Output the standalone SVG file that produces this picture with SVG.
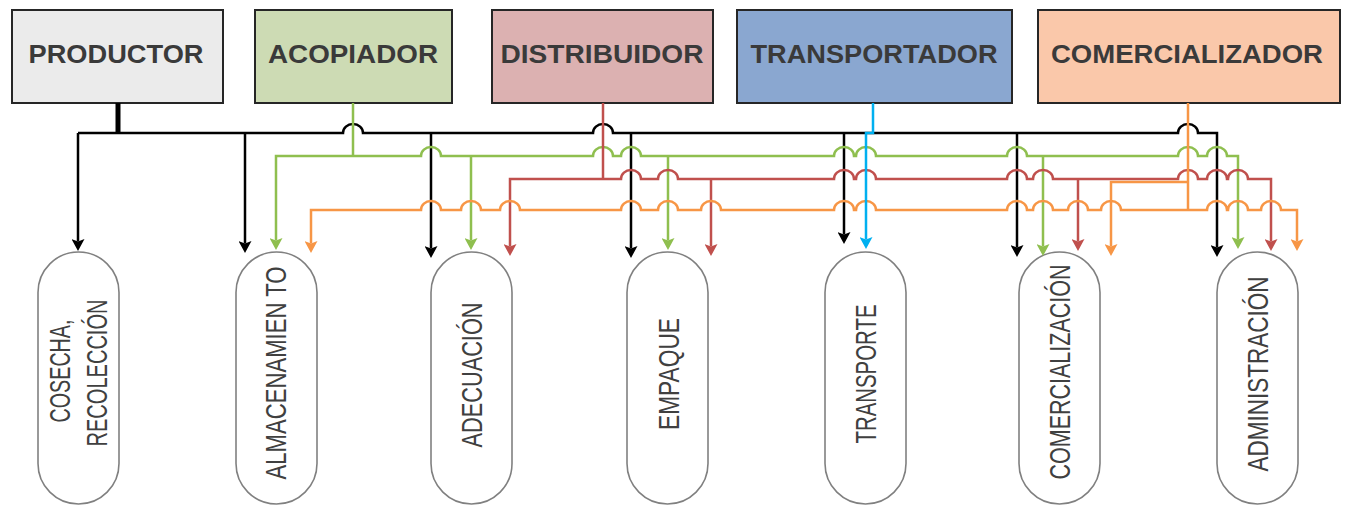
<svg xmlns="http://www.w3.org/2000/svg" width="1346" height="512" viewBox="0 0 1346 512">
<style>
.box{stroke:#262626;stroke-width:2}
.bt{font-family:"Liberation Sans",Arial,sans-serif;font-weight:bold;font-size:25px;fill:#3a3a3a;text-anchor:middle}
.node{fill:#ffffff;stroke:#808080;stroke-width:1.6}
.nt{font-family:"Liberation Sans",Arial,sans-serif;font-size:29px;fill:#404040;text-anchor:middle}
.c{fill:none;stroke-width:2.5;stroke-linejoin:miter}
.thick{stroke-width:5}
.k{stroke:#000000}
.g{stroke:#8fbf4f}
.r{stroke:#c0504d}
.o{stroke:#f79646}
.b{stroke:#00b0f0}
</style>
<defs>
<marker id="ak" markerUnits="userSpaceOnUse" markerWidth="13" markerHeight="13" refX="2.5" refY="6.5" orient="auto"><path d="M0,0 L12,6.5 L0,13 L2.5,6.5 z" fill="#000000"/></marker>
<marker id="ag" markerUnits="userSpaceOnUse" markerWidth="13" markerHeight="13" refX="2.5" refY="6.5" orient="auto"><path d="M0,0 L12,6.5 L0,13 L2.5,6.5 z" fill="#8fbf4f"/></marker>
<marker id="ar" markerUnits="userSpaceOnUse" markerWidth="13" markerHeight="13" refX="2.5" refY="6.5" orient="auto"><path d="M0,0 L12,6.5 L0,13 L2.5,6.5 z" fill="#c0504d"/></marker>
<marker id="ao" markerUnits="userSpaceOnUse" markerWidth="13" markerHeight="13" refX="2.5" refY="6.5" orient="auto"><path d="M0,0 L12,6.5 L0,13 L2.5,6.5 z" fill="#f79646"/></marker>
<marker id="ab" markerUnits="userSpaceOnUse" markerWidth="13" markerHeight="13" refX="2.5" refY="6.5" orient="auto"><path d="M0,0 L12,6.5 L0,13 L2.5,6.5 z" fill="#00b0f0"/></marker>
</defs>
<rect width="1346" height="512" fill="#ffffff"/>

<g id="productor"><rect class="box" x="12" y="10" width="211" height="93" fill="#ebebeb"/><text class="bt" x="116" y="63" textLength="175" lengthAdjust="spacingAndGlyphs">PRODUCTOR</text></g>
<g id="acopiador"><rect class="box" x="255" y="10" width="197" height="93" fill="#cddbb4"/><text class="bt" x="353" y="63" textLength="170" lengthAdjust="spacingAndGlyphs">ACOPIADOR</text></g>
<g id="distribuidor"><rect class="box" x="492" y="10" width="221" height="93" fill="#dcb1b1"/><text class="bt" x="602" y="63" textLength="203" lengthAdjust="spacingAndGlyphs">DISTRIBUIDOR</text></g>
<g id="transportador"><rect class="box" x="737" y="10" width="275" height="93" fill="#8aa7d0"/><text class="bt" x="874" y="63" textLength="247" lengthAdjust="spacingAndGlyphs">TRANSPORTADOR</text></g>
<g id="comercializador"><rect class="box" x="1038" y="10" width="302" height="93" fill="#fac8aa"/><text class="bt" x="1187" y="63" textLength="272" lengthAdjust="spacingAndGlyphs">COMERCIALIZADOR</text></g>

<g id="cosecha"><rect class="node" x="38" y="252" width="81" height="252" rx="40.5"/>
<text class="nt" transform="translate(70,371) rotate(-90)" textLength="103" lengthAdjust="spacingAndGlyphs">COSECHA,</text>
<text class="nt" transform="translate(107,373) rotate(-90)" textLength="147" lengthAdjust="spacingAndGlyphs">RECOLECCIÓN</text></g>
<g id="almacenamiento"><rect class="node" x="236" y="252" width="81" height="252" rx="40.5"/>
<text class="nt" transform="translate(286,373) rotate(-90)" textLength="213" lengthAdjust="spacingAndGlyphs">ALMACENAMIEN TO</text></g>
<g id="adecuacion"><rect class="node" x="431" y="252" width="81" height="252" rx="40.5"/>
<text class="nt" transform="translate(482,375) rotate(-90)" textLength="145" lengthAdjust="spacingAndGlyphs">ADECUACIÓN</text></g>
<g id="empaque"><rect class="node" x="627" y="252" width="81" height="252" rx="40.5"/>
<text class="nt" transform="translate(679,374) rotate(-90)" textLength="112" lengthAdjust="spacingAndGlyphs">EMPAQUE</text></g>
<g id="transporte"><rect class="node" x="825" y="252" width="81" height="252" rx="40.5"/>
<text class="nt" transform="translate(876,374) rotate(-90)" textLength="139" lengthAdjust="spacingAndGlyphs">TRANSPORTE</text></g>
<g id="comercializacion"><rect class="node" x="1019" y="252" width="81" height="252" rx="40.5"/>
<text class="nt" transform="translate(1070,372) rotate(-90)" textLength="215" lengthAdjust="spacingAndGlyphs">COMERCIALIZACIÓN</text></g>
<g id="administracion"><rect class="node" x="1217" y="252" width="81" height="252" rx="40.5"/>
<text class="nt" transform="translate(1268,374) rotate(-90)" textLength="195" lengthAdjust="spacingAndGlyphs">ADMINISTRACIÓN</text></g>

<g id="connectors">
<!-- black (productor) -->
<path class="c k thick" d="M118,103 V133"/>
<path class="c k" marker-end="url(#ak)" d="M78,133 V241.5"/>
<path class="c k" marker-end="url(#ak)" d="M78,133 H343 A10,9 0 0 1 363,133 H593 A10,9 0 0 1 613,133 H1178 A10,9 0 0 1 1198,133 H1217 V247.5"/>
<path class="c k" marker-end="url(#ak)" d="M245,133 V243.5"/>
<path class="c k" marker-end="url(#ak)" d="M431,133 V248.5"/>
<path class="c k" marker-end="url(#ak)" d="M631,133 V248.5"/>
<path class="c k" marker-end="url(#ak)" d="M844,133 V234.5"/>
<path class="c k" marker-end="url(#ak)" d="M1017,133 V247.5"/>
<!-- green (acopiador) -->
<path class="c g" d="M353,103 V156"/>
<path class="c g" marker-end="url(#ag)" d="M353,156 H276 V240.5"/>
<path class="c g" marker-end="url(#ag)" d="M353,156 H421 A10,9 0 0 1 441,156 H593 A10,9 0 0 1 613,156 H621 A10,9 0 0 1 641,156 H834 A10,9 0 0 1 854,156 H856 A10,9 0 0 1 876,156 H1007 A10,9 0 0 1 1027,156 H1178 A10,9 0 0 1 1198,156 H1207 A10,9 0 0 1 1227,156 H1238 V239.5"/>
<path class="c g" marker-end="url(#ag)" d="M471,156 V240.5"/>
<path class="c g" marker-end="url(#ag)" d="M668,156 V240.5"/>
<path class="c g" marker-end="url(#ag)" d="M1043,156 V246.5"/>
<!-- red (distribuidor) -->
<path class="c r" d="M603,103 V179"/>
<path class="c r" marker-end="url(#ar)" d="M603,179 H510 V246.5"/>
<path class="c r" marker-end="url(#ar)" d="M603,179 H621 A10,9 0 0 1 641,179 H658 A10,9 0 0 1 678,179 H834 A10,9 0 0 1 854,179 H856 A10,9 0 0 1 876,179 H1007 A10,9 0 0 1 1027,179 H1033 A10,9 0 0 1 1053,179 H1178 A10,9 0 0 1 1198,179 H1207 A10,9 0 0 1 1227,179 H1228 A10,9 0 0 1 1248,179 H1271 V241.5"/>
<path class="c r" marker-end="url(#ar)" d="M711,179 V246.5"/>
<path class="c r" marker-end="url(#ar)" d="M1078,179 V241.5"/>
<!-- orange (comercializador) -->
<path class="c o" d="M1188,103 V210"/>
<path class="c o" marker-end="url(#ao)" d="M1188,182 H1111 V246.5"/>
<path class="c o" marker-end="url(#ao)" d="M1188,210 H1121 A10,9 0 0 0 1101,210 H1088 A10,9 0 0 0 1068,210 H1053 A10,9 0 0 0 1033,210 H1027 A10,9 0 0 0 1007,210 H876 A10,9 0 0 0 856,210 H854 A10,9 0 0 0 834,210 H721 A10,9 0 0 0 701,210 H678 A10,9 0 0 0 658,210 H641 A10,9 0 0 0 621,210 H520 A10,9 0 0 0 500,210 H481 A10,9 0 0 0 461,210 H441 A10,9 0 0 0 421,210 H311 V243.5"/>
<path class="c o" marker-end="url(#ao)" d="M1188,210 H1207 A10,9 0 0 1 1227,210 H1228 A10,9 0 0 1 1248,210 H1261 A10,9 0 0 1 1281,210 H1297 V241.5"/>
<!-- blue (transportador) -->
<path class="c b" marker-end="url(#ab)" d="M873,103 V133 H866 V239.5"/>
</g>
</svg>
